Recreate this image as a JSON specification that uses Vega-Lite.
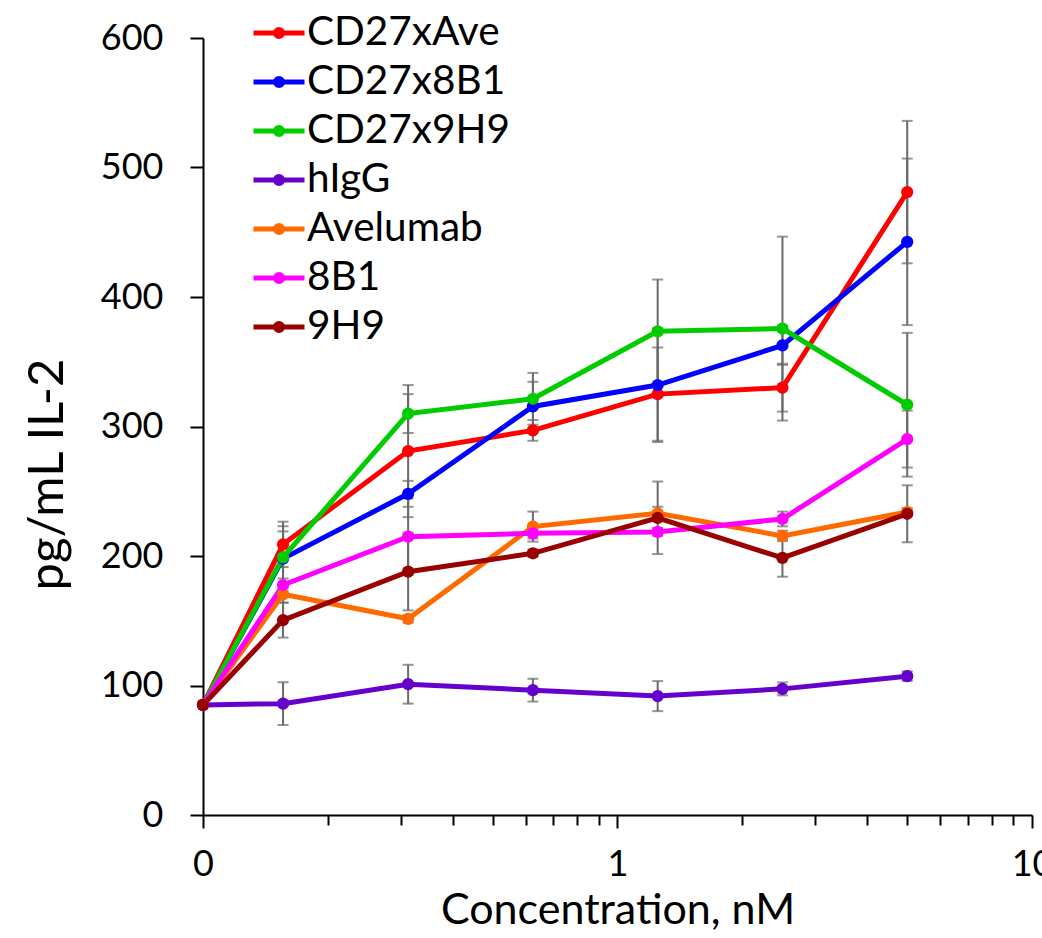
{
  "$schema": "https://vega.github.io/schema/vega-lite/v6.json",
  "width": 829,
  "height": 777,
  "autosize": "none",
  "padding": {"left": 203, "top": 38, "right": 10, "bottom": 123},
  "background": "white",
  "config": {
    "view": {"stroke": null},
    "font": "Lato",
    "axis": {"grid": false, "domainColor": "#000000", "tickColor": "#000000", "labelColor": "#000000", "titleColor": "#000000", "domainWidth": 2, "tickWidth": 2, "labelFont": "Lato", "titleFont": "Lato", "titleFontWeight": "normal"}
  },
  "data": {
    "values": [
      {"series": "CD27xAve", "conc": 0.1, "v": 85},
      {"series": "CD27xAve", "conc": 0.156, "v": 209, "lo": 191.5, "hi": 226.5},
      {"series": "CD27xAve", "conc": 0.3125, "v": 281, "lo": 230, "hi": 332},
      {"series": "CD27xAve", "conc": 0.625, "v": 297, "lo": 289, "hi": 305},
      {"series": "CD27xAve", "conc": 1.25, "v": 325, "lo": 289, "hi": 361},
      {"series": "CD27xAve", "conc": 2.5, "v": 330, "lo": 311.5, "hi": 348.5},
      {"series": "CD27xAve", "conc": 5, "v": 481, "lo": 426, "hi": 536},
      {"series": "CD27x8B1", "conc": 0.1, "v": 85},
      {"series": "CD27x8B1", "conc": 0.156, "v": 198, "lo": 177, "hi": 219},
      {"series": "CD27x8B1", "conc": 0.3125, "v": 248, "lo": 238, "hi": 258},
      {"series": "CD27x8B1", "conc": 0.625, "v": 315.5, "lo": 296.5, "hi": 334.5},
      {"series": "CD27x8B1", "conc": 1.25, "v": 332, "lo": 288, "hi": 376},
      {"series": "CD27x8B1", "conc": 2.5, "v": 362.6, "lo": 347.6, "hi": 377.6},
      {"series": "CD27x8B1", "conc": 5, "v": 442.6, "lo": 378.3, "hi": 506.9},
      {"series": "CD27x9H9", "conc": 0.1, "v": 85},
      {"series": "CD27x9H9", "conc": 0.156, "v": 199, "lo": 175, "hi": 223},
      {"series": "CD27x9H9", "conc": 0.3125, "v": 310, "lo": 295, "hi": 325},
      {"series": "CD27x9H9", "conc": 0.625, "v": 321.4, "lo": 301.4, "hi": 341.4},
      {"series": "CD27x9H9", "conc": 1.25, "v": 373.5, "lo": 333.5, "hi": 413.5},
      {"series": "CD27x9H9", "conc": 2.5, "v": 375.6, "lo": 304.6, "hi": 446.6},
      {"series": "CD27x9H9", "conc": 5, "v": 316.8, "lo": 261.3, "hi": 372.3},
      {"series": "hIgG", "conc": 0.1, "v": 85},
      {"series": "hIgG", "conc": 0.156, "v": 86, "lo": 69.5, "hi": 102.5},
      {"series": "hIgG", "conc": 0.3125, "v": 101, "lo": 86, "hi": 116},
      {"series": "hIgG", "conc": 0.625, "v": 96.4, "lo": 87.6, "hi": 105.2},
      {"series": "hIgG", "conc": 1.25, "v": 91.8, "lo": 80.2, "hi": 103.4},
      {"series": "hIgG", "conc": 2.5, "v": 97.4, "lo": 92.4, "hi": 102.4},
      {"series": "hIgG", "conc": 5, "v": 107.2, "lo": 103.5, "hi": 110.9},
      {"series": "Avelumab", "conc": 0.1, "v": 85},
      {"series": "Avelumab", "conc": 0.156, "v": 170.4, "lo": 163.9, "hi": 176.9},
      {"series": "Avelumab", "conc": 0.3125, "v": 151.5, "lo": 148.5, "hi": 154.5},
      {"series": "Avelumab", "conc": 0.625, "v": 222.7, "lo": 211.1, "hi": 234.3},
      {"series": "Avelumab", "conc": 1.25, "v": 233, "lo": 228, "hi": 238},
      {"series": "Avelumab", "conc": 2.5, "v": 215.5, "lo": 211.5, "hi": 219.5},
      {"series": "Avelumab", "conc": 5, "v": 234, "lo": 231, "hi": 237},
      {"series": "8B1", "conc": 0.1, "v": 85},
      {"series": "8B1", "conc": 0.156, "v": 177.6, "lo": 172.6, "hi": 182.6},
      {"series": "8B1", "conc": 0.3125, "v": 214.9, "lo": 185.3, "hi": 244.5},
      {"series": "8B1", "conc": 0.625, "v": 217.5, "lo": 213.5, "hi": 221.5},
      {"series": "8B1", "conc": 1.25, "v": 218.6, "lo": 215.6, "hi": 221.6},
      {"series": "8B1", "conc": 2.5, "v": 228.6, "lo": 222.9, "hi": 234.3},
      {"series": "8B1", "conc": 5, "v": 290.3, "lo": 268.3, "hi": 312.3},
      {"series": "9H9", "conc": 0.1, "v": 85},
      {"series": "9H9", "conc": 0.156, "v": 150.5, "lo": 137, "hi": 164},
      {"series": "9H9", "conc": 0.3125, "v": 187.9, "lo": 158, "hi": 218},
      {"series": "9H9", "conc": 0.625, "v": 202.1, "lo": 199.1, "hi": 205.1},
      {"series": "9H9", "conc": 1.25, "v": 229.5, "lo": 201.5, "hi": 257.5},
      {"series": "9H9", "conc": 2.5, "v": 198.5, "lo": 184, "hi": 213},
      {"series": "9H9", "conc": 5, "v": 232.6, "lo": 210.6, "hi": 254.6}
    ]
  },
  "encoding": {
    "x": {
      "field": "conc", "type": "quantitative",
      "scale": {"type": "log", "domain": [0.1, 10], "nice": false},
      "axis": {
        "title": "Concentration, nM", "titleFontSize": 43, "titlePadding": 7,
        "values": [0.1, 0.2, 0.3, 0.4, 0.5, 0.6, 0.7, 0.8, 0.9, 1, 2, 3, 4, 5, 6, 7, 8, 9, 10],
        "labelExpr": "datum.value == 0.1 ? '0' : (datum.value == 1 ? '1' : (datum.value == 10 ? '10' : ''))",
        "tickSize": {"condition": {"test": "datum.value == 0.1 || datum.value == 1 || datum.value == 10", "value": 13}, "value": 10},
        "labelFontSize": 36, "labelPadding": 19, "labelFlush": false, "labelOverlap": false, "labelBound": false
      }
    },
    "y": {
      "field": "v", "type": "quantitative",
      "scale": {"domain": [0, 600], "nice": false},
      "axis": {"title": "pg/mL IL-2", "titleFontSize": 49, "titlePadding": 28, "titleY": 436, "values": [0, 100, 200, 300, 400, 500, 600], "tickSize": 13, "labelFontSize": 36, "labelPadding": 27}
    },
    "color": {"field": "series", "type": "nominal",
      "scale": {"domain": ["CD27xAve", "CD27x8B1", "CD27x9H9", "hIgG", "Avelumab", "8B1", "9H9"], "range": ["#ff0000", "#0000ff", "#00cc00", "#6600cc", "#ff6a00", "#ff00ff", "#990000"]},
      "legend": {
        "title": null, "orient": "none", "legendX": 48, "legendY": -33,
        "symbolType": "M-1,0L1,0M0.14,0A0.14,0.14 0 1,1 -0.14,0A0.14,0.14 0 1,1 0.14,0",
        "symbolSize": 2601, "symbolStrokeWidth": 5, "symbolOpacity": 1,
        "labelFontSize": 40.5, "labelFont": "Lato", "labelColor": "#000000", "labelOffset": 0, "rowPadding": -1, "labelLimit": 400
      }
    }
  },
  "layer": [
    {
      "mark": {"type": "errorbar", "ticks": {"size": 11}, "thickness": 2, "color": "#6a6a6a"},
      "encoding": {
        "y": {"field": "lo", "type": "quantitative", "scale": {"domain": [0, 600], "nice": false}, "axis": {"title": "pg/mL IL-2"}},
        "y2": {"field": "hi"},
        "color": {"value": "#6a6a6a"}
      }
    },
    {
      "mark": {"type": "line", "strokeWidth": 5}
    },
    {
      "mark": {"type": "point", "filled": true, "size": 150, "opacity": 1}
    }
  ]
}
